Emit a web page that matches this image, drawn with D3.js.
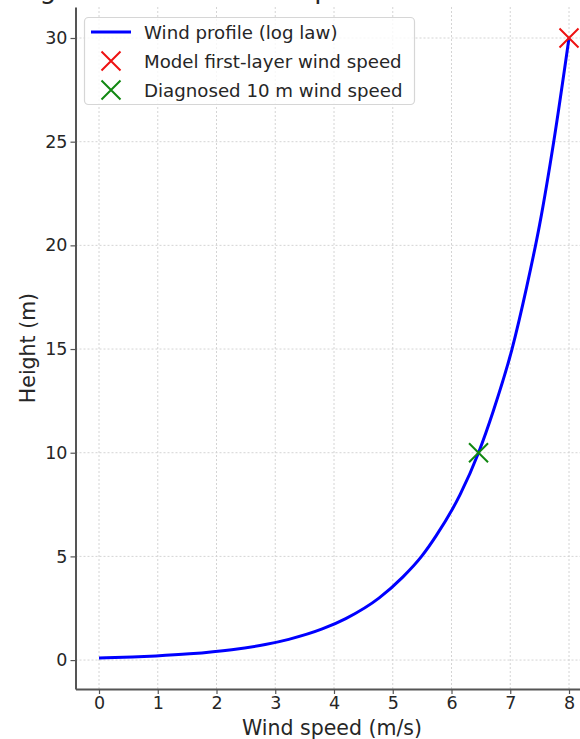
<!DOCTYPE html>
<html>
<head>
<meta charset="utf-8">
<script src="https://cdn.jsdelivr.net/npm/d3@7"></script>
<style>
    body { margin: 0; background: #fff; }
    text { font-family: "DejaVu Sans", sans-serif; fill: #262626; }
</style>
</head>
<body>
<div id="chart"></div>
<script>
// values
var profileHeights = [0.1, 0.15, 0.2, 0.3, 0.5, 0.75, 1, 1.5, 2, 3, 4, 5, 6, 8, 10, 12, 15, 18, 21, 25, 30];
var profileSpeeds  = [0, 0.57, 0.97, 1.54, 2.26, 2.83, 3.23, 3.80, 4.20, 4.77, 5.17, 5.49, 5.74, 6.15, 6.46, 6.71, 7.03, 7.28, 7.50, 7.74, 8.0];

var markerSpeeds  = [8.0, 6.46];
var markerHeights = [30, 10];

var legendLabels = ["Wind profile (log law)", "Model first-layer wind speed", "Diagnosed 10 m wind speed"];

var xTicks = [0, 1, 2, 3, 4, 5, 6, 7, 8];
var yTicks = [0, 5, 10, 15, 20, 25, 30];

var titleText = "Logarithmic wind extrapolation to 10 m height";

WindProfile = function(_parentElement){
    this.parentElement = _parentElement;
    this.initVis();
};

WindProfile.prototype.initVis = function(){
    var vis = this;

    vis.fullWidth = 580;
    vis.fullHeight = 739;

    vis.svg = d3.select("#" + vis.parentElement).append("svg")
        .attr("width", vis.fullWidth)
        .attr("height", vis.fullHeight)
        .style("display", "block");

    // axes box (right edge runs off the picture)
    vis.left = 75.5; vis.right = 592.5;
    vis.top = 7; vis.bottom = 689;

    vis.x = d3.scaleLinear().domain([-0.4, 8.4]).range([vis.left, vis.right]);
    vis.y = d3.scaleLinear().domain([-1.395, 31.495]).range([vis.bottom, vis.top]);

    vis.colors = ["#0000ff", "#ee1111", "#118811"];

    vis.drawGrid();
    vis.drawAxes();
    vis.drawData();
    vis.drawLegend();
};

WindProfile.prototype.drawGrid = function(){
    var vis = this;
    var g = vis.svg.append("g").attr("class", "grid");

    g.selectAll("line.gx").data(xTicks).enter().append("line")
        .attr("class", "gx")
        .attr("x1", function(d){ return vis.x(d); })
        .attr("x2", function(d){ return vis.x(d); })
        .attr("y1", vis.top).attr("y2", vis.bottom);

    g.selectAll("line.gy").data(yTicks).enter().append("line")
        .attr("class", "gy")
        .attr("y1", function(d){ return vis.y(d); })
        .attr("y2", function(d){ return vis.y(d); })
        .attr("x1", vis.left).attr("x2", vis.right);

    g.selectAll("line")
        .attr("stroke", "#cfcfcf")
        .attr("stroke-width", 0.9)
        .attr("stroke-dasharray", "2,2");
};

WindProfile.prototype.drawAxes = function(){
    var vis = this;

    vis.xAxis = d3.axisBottom(vis.x).tickValues(xTicks).tickSize(5).tickSizeOuter(0).tickPadding(3);
    vis.yAxis = d3.axisLeft(vis.y).tickValues(yTicks).tickSize(5).tickSizeOuter(0).tickPadding(3);

    var gX = vis.svg.append("g")
        .attr("transform", "translate(0," + vis.bottom + ")")
        .call(vis.xAxis);
    var gY = vis.svg.append("g")
        .attr("transform", "translate(" + vis.left + ",0)")
        .call(vis.yAxis);

    [gX, gY].forEach(function(g){
        g.select(".domain").attr("stroke", "#555").attr("stroke-width", 2);
        g.selectAll(".tick line").attr("stroke", "#555").attr("stroke-width", 1.2);
        g.selectAll(".tick text")
            .attr("font-size", 17.5)
            .attr("font-family", "DejaVu Sans")
            .attr("fill", "#262626");
    });

    // axis labels
    vis.svg.append("text")
        .attr("x", 332)
        .attr("y", 735)
        .attr("text-anchor", "middle")
        .attr("font-size", 20.5)
        .text("Wind speed (m/s)");

    vis.svg.append("text")
        .attr("transform", "translate(35,348) rotate(-90)")
        .attr("text-anchor", "middle")
        .attr("font-size", 20.5)
        .text("Height (m)");

    // title, sits above the picture: only descenders show
    vis.svg.append("text")
        .attr("x", 9)
        .attr("y", -2)
        .attr("font-size", 26.5)
        .text(titleText);
};

WindProfile.prototype.drawData = function(){
    var vis = this;

    var points = profileHeights.map(function(h, i){
        return { speed: profileSpeeds[i], height: h };
    });

    var line = d3.line()
        .x(function(d){ return vis.x(d.speed); })
        .y(function(d){ return vis.y(d.height); })
        .curve(d3.curveMonotoneX);

    vis.svg.append("path")
        .datum(points)
        .attr("d", line)
        .attr("fill", "none")
        .attr("stroke", vis.colors[0])
        .attr("stroke-width", 3);

    markerSpeeds.forEach(function(s, i){
        vis.drawCross(vis.svg, vis.x(s), vis.y(markerHeights[i]), vis.colors[i + 1]);
    });
};

WindProfile.prototype.drawCross = function(parent, cx, cy, color){
    var r = 9.5;
    parent.append("path")
        .attr("d", "M" + (cx - r) + "," + (cy - r) + "L" + (cx + r) + "," + (cy + r) +
                   "M" + (cx - r) + "," + (cy + r) + "L" + (cx + r) + "," + (cy - r))
        .attr("stroke", color)
        .attr("stroke-width", 2)
        .attr("fill", "none");
};

WindProfile.prototype.drawLegend = function(){
    var vis = this;

    var lg = vis.svg.append("g").attr("class", "legend");

    lg.append("rect")
        .attr("x", 84.5).attr("y", 17.5)
        .attr("width", 330).attr("height", 87)
        .attr("rx", 4)
        .attr("fill", "#fff")
        .attr("fill-opacity", 0.8)
        .attr("stroke", "#d6d6d6")
        .attr("stroke-width", 1.2);

    var rowY = [32, 61, 90];

    lg.append("line")
        .attr("x1", 91).attr("x2", 131)
        .attr("y1", rowY[0]).attr("y2", rowY[0])
        .attr("stroke", vis.colors[0])
        .attr("stroke-width", 3);

    vis.drawCross(lg, 111, rowY[1], vis.colors[1]);
    vis.drawCross(lg, 111, rowY[2], vis.colors[2]);

    lg.selectAll("text.lbl").data(legendLabels).enter().append("text")
        .attr("class", "lbl")
        .attr("x", 144)
        .attr("y", function(d, i){ return rowY[i] + 7; })
        .attr("font-size", 18.2)
        .text(function(d){ return d; });
};

new WindProfile("chart");
</script>
</body>
</html>
